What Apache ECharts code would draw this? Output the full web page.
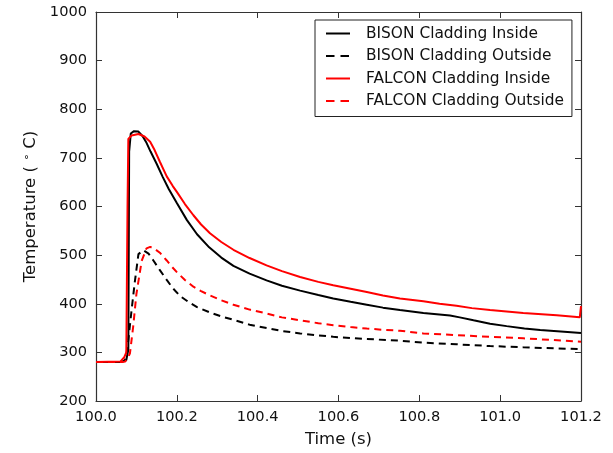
<!DOCTYPE html>
<html>
<head>
<meta charset="utf-8">
<script src="https://cdn.jsdelivr.net/npm/echarts@6/dist/echarts.min.js"></script>
<style>
  html, body { margin: 0; padding: 0; background: #fff; }
  #chart { width: 613px; height: 453px; }
</style>
</head>
<body>
<div id="chart"></div>
<script>
// Cladding temperature during the transient, BISON vs FALCON
const seriesNames = [
  'BISON Cladding Inside',
  'BISON Cladding Outside',
  'FALCON Cladding Inside',
  'FALCON Cladding Outside'
];

const bisonInsideTime = [100.0, 100.06, 100.075, 100.08, 100.082, 100.086, 100.094, 100.105, 100.115, 100.125, 100.135, 100.15, 100.165, 100.18, 100.2, 100.225, 100.25, 100.28, 100.31, 100.34, 100.38, 100.422, 100.46, 100.505, 100.55, 100.587, 100.63, 100.67, 100.71, 100.752, 100.81, 100.876, 100.9, 100.934, 100.975, 101.016, 101.06, 101.099, 101.15, 101.2];
const bisonInsideTemp = [280, 280, 284, 306, 713, 750, 755, 754, 745, 731, 713, 688, 661, 636, 607, 572, 543, 516, 495, 478, 462, 448, 437, 427, 418, 411, 404, 398, 392, 387, 381, 376, 372, 366, 359, 354, 349, 346, 343, 340];

const bisonOutsideTime = [100.0, 100.06, 100.07, 100.074, 100.08, 100.088, 100.0965, 100.105, 100.117, 100.13, 100.142, 100.158, 100.175, 100.19, 100.208, 100.23, 100.25, 100.282, 100.31, 100.34, 100.38, 100.422, 100.46, 100.505, 100.55, 100.587, 100.63, 100.67, 100.752, 100.81, 100.892, 100.975, 101.057, 101.2];
const bisonOutsideTemp = [280, 280, 282, 288, 325, 387, 448, 502, 510, 503, 489, 469, 449, 432, 416, 403, 393, 382, 374, 367, 357, 350, 344, 339, 335, 332, 329.5, 327.5, 324, 320, 316.6, 313, 310.5, 306.5];

const falconInsideTime = [100.0, 100.06, 100.07, 100.075, 100.078, 100.08, 100.088, 100.105, 100.12, 100.134, 100.145, 100.158, 100.175, 100.19, 100.2, 100.22, 100.241, 100.26, 100.282, 100.31, 100.34, 100.38, 100.422, 100.46, 100.505, 100.55, 100.587, 100.63, 100.67, 100.71, 100.752, 100.81, 100.85, 100.892, 100.93, 100.975, 101.057, 101.14, 101.197, 101.2, 101.2];
const falconInsideTemp = [280, 281, 290, 300, 600, 739, 746, 749, 744, 733, 716, 692, 662, 642, 630, 605, 582, 563, 545, 527, 511, 494, 479, 467, 455, 445, 438, 431, 424, 417, 411, 405, 400, 396, 391, 387, 381, 376.5, 372, 372, 395];

const falconOutsideTime = [100.0, 100.065, 100.072, 100.078, 100.084, 100.092, 100.1, 100.113, 100.125, 100.134, 100.145, 100.158, 100.175, 100.19, 100.2, 100.22, 100.241, 100.26, 100.282, 100.31, 100.34, 100.38, 100.422, 100.46, 100.505, 100.55, 100.587, 100.63, 100.67, 100.71, 100.752, 100.81, 100.892, 100.975, 101.057, 101.2];
const falconOutsideTemp = [280, 280, 281, 287, 298, 353, 420, 488, 514, 517, 513, 505, 489, 474, 465, 449, 435, 426, 417, 407, 398, 388, 380, 372, 366, 360, 356, 352, 349, 346.5, 344.5, 339, 335.6, 332, 329, 322];

const timeTicks = { min: 100.0, max: 101.2, step: 0.2 };
const tempTicks = { min: 200, max: 1000, step: 100 };

const FONT = 'DejaVu Sans';
const AXIS_COLOR = '#333';
const DASH = [7, 5];

function pairs(xs, ys) { return xs.map((x, i) => [x, ys[i]]); }

function lineSeries(name, xs, ys, color, dashed) {
  return {
    name: name,
    type: 'line',
    data: pairs(xs, ys),
    symbol: 'none',
    showSymbol: false,
    smooth: false,
    animation: false,
    lineStyle: { color: color, width: 2, type: dashed ? DASH : 'solid' },
    itemStyle: { color: color }
  };
}

function frameAxis(base, position, showLabels) {
  return Object.assign({}, base, {
    position: position,
    axisLine: { show: true, onZero: false, lineStyle: { color: AXIS_COLOR, width: 1.2 } },
    axisTick: { show: true, inside: true, length: 6, lineStyle: { color: AXIS_COLOR, width: 1 } },
    splitLine: { show: false },
    axisLabel: Object.assign({ show: showLabels }, base.axisLabel || {})
  });
}

const xBase = {
  type: 'value',
  min: timeTicks.min,
  max: timeTicks.max,
  interval: timeTicks.step,
  axisLabel: {
    margin: 9,
    fontFamily: FONT,
    fontSize: 14.6,
    color: '#111',
    formatter: v => v.toFixed(1)
  }
};

const yBase = {
  type: 'value',
  min: tempTicks.min,
  max: tempTicks.max,
  interval: tempTicks.step,
  axisLabel: {
    margin: 9,
    fontFamily: FONT,
    fontSize: 14.6,
    color: '#111',
    formatter: v => String(Math.round(v))
  }
};

// legend entries: dashed samples get a longer dash so two dashes show
const legendEntries = seriesNames.map((n, i) => (
  i % 2 === 1 ? { name: n, lineStyle: { type: [8.5, 6] } } : { name: n }
));

const chart = echarts.init(document.getElementById('chart'), null, { renderer: 'canvas' });

chart.setOption({
  backgroundColor: '#fff',
  animation: false,
  grid: { left: 96, right: 32, top: 12, bottom: 48, containLabel: false },
  xAxis: [
    Object.assign(frameAxis(xBase, 'bottom', true), {
      name: 'Time (s)',
      nameLocation: 'middle',
      nameGap: 30,
      nameTextStyle: { fontFamily: FONT, fontSize: 16.5, color: '#111' }
    }),
    frameAxis(xBase, 'top', false)
  ],
  yAxis: [
    Object.assign(frameAxis(yBase, 'left', true), {
      name: 'Temperature ( {d|\u2218} C)',
      nameLocation: 'middle',
      nameGap: 56,
      nameTextStyle: {
        fontFamily: FONT, fontSize: 16.5, color: '#111',
        rich: { d: { fontFamily: FONT, fontSize: 11, color: '#111', verticalAlign: 'top' } }
      }
    }),
    frameAxis(yBase, 'right', false)
  ],
  legend: {
    data: legendEntries,
    orient: 'vertical',
    left: 315,
    top: 20,
    padding: [5, 8, 7, 10],
    itemWidth: 24,
    itemHeight: 12,
    itemGap: 5.5,
    borderColor: '#222',
    borderWidth: 1,
    borderRadius: 0,
    backgroundColor: '#fff',
    align: 'left',
    itemStyle: { opacity: 0, color: 'rgba(0,0,0,0)', borderWidth: 0 },
    textStyle: { fontFamily: FONT, fontSize: 15.4, color: '#111', lineHeight: 17, padding: [0, 0, 0, 11] }
  },
  series: [
    lineSeries(seriesNames[0], bisonInsideTime, bisonInsideTemp, '#000000', false),
    lineSeries(seriesNames[1], bisonOutsideTime, bisonOutsideTemp, '#000000', true),
    lineSeries(seriesNames[2], falconInsideTime, falconInsideTemp, '#ff0000', false),
    lineSeries(seriesNames[3], falconOutsideTime, falconOutsideTemp, '#ff0000', true)
  ]
});
</script>
</body>
</html>
